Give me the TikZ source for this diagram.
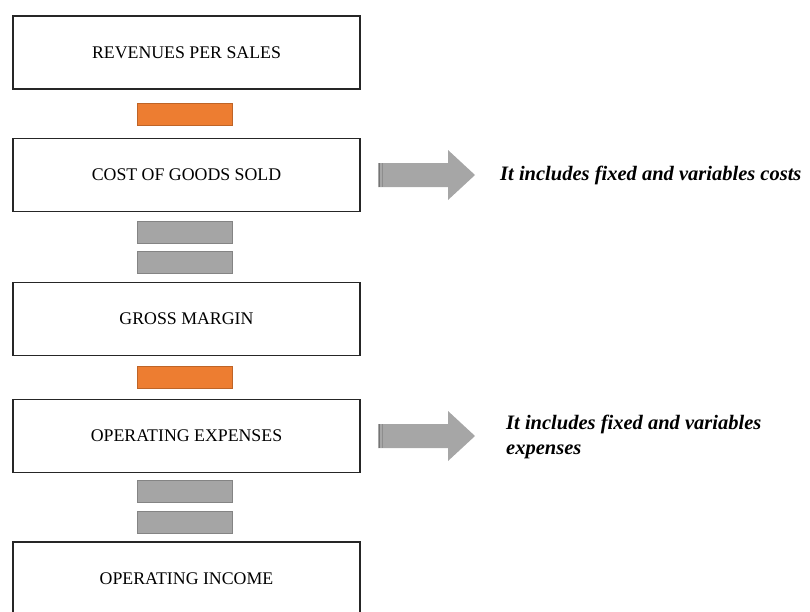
\documentclass[tikz,border=0pt]{standalone}
\usepackage{fontspec}
\setmainfont{Liberation Serif}
\definecolor{barorange}{HTML}{ED7D31}
\definecolor{bargray}{HTML}{A5A5A5}
\definecolor{arrowgray}{HTML}{A6A6A6}
\tikzset{
  stepbox/.style={draw=black!85, line width=1.1pt, minimum width=347pt, minimum height=73pt,
    inner sep=0pt, font=\fontsize{17.8}{21}\selectfont},
  orangebar/.style={fill=barorange, draw=barorange!80!black, line width=0.6pt,
    minimum width=95pt, minimum height=22pt, inner sep=0pt},
  graybar/.style={fill=bargray, draw=bargray!80!black, line width=0.6pt,
    minimum width=95pt, minimum height=22pt, inner sep=0pt},
  arrowbody/.style={fill=arrowgray, draw=none},
  arrowedge/.style={draw=arrowgray!70!black, line width=0.7pt},
  note/.style={font=\fontsize{20.5}{25}\selectfont\bfseries\itshape, anchor=west, align=left, inner sep=0pt}
}
% block arrow pointing right, tail at #1 (x,y)
\newcommand{\blockarrow}[2]{%
  \fill[arrowbody] (#1,#2-12) -- (#1+70,#2-12) -- (#1+70,#2-25) -- (#1+97,#2)
    -- (#1+70,#2+25) -- (#1+70,#2+12) -- (#1,#2+12) -- cycle;
  \draw[arrowedge] (#1+1,#2-12) -- (#1+1,#2+12);
  \draw[arrowedge, draw=arrowgray!85!black] (#1+4,#2-12) -- (#1+4,#2+12);
}
\begin{document}
\begin{tikzpicture}[x=1pt,y=-1pt]
  \useasboundingbox (0,0) rectangle (810,611);
  \clip (0,0) rectangle (810,611);
  % statement lines
  \node[stepbox] (rev)  at (186.5,52.5)  {REVENUES PER SALES};
  \node[stepbox] (cogs) at (186.5,175)   {COST OF GOODS SOLD};
  \node[stepbox] (gm)   at (186.5,319)   {GROSS MARGIN};
  \node[stepbox] (opex) at (186.5,436)   {OPERATING EXPENSES};
  \node[stepbox, minimum height=74pt] (oi) at (186.5,579) {OPERATING INCOME};
  % operators between the lines
  \node[orangebar] (minus1) at (184.5,114) {};
  \node[graybar]   (eqa1)   at (184.5,232) {};
  \node[graybar]   (eqb1)   at (184.5,262) {};
  \node[orangebar] (minus2) at (184.5,377) {};
  \node[graybar]   (eqa2)   at (184.5,491.5) {};
  \node[graybar]   (eqb2)   at (184.5,522) {};
  % side notes
  \blockarrow{378}{175}
  \node[note] (n1) at (500,175) {It includes fixed and variables costs};
  \blockarrow{378}{436}
  \node[note] (n2) at (506,436.5) {It includes fixed and variables\\expenses};
\end{tikzpicture}
\end{document}
